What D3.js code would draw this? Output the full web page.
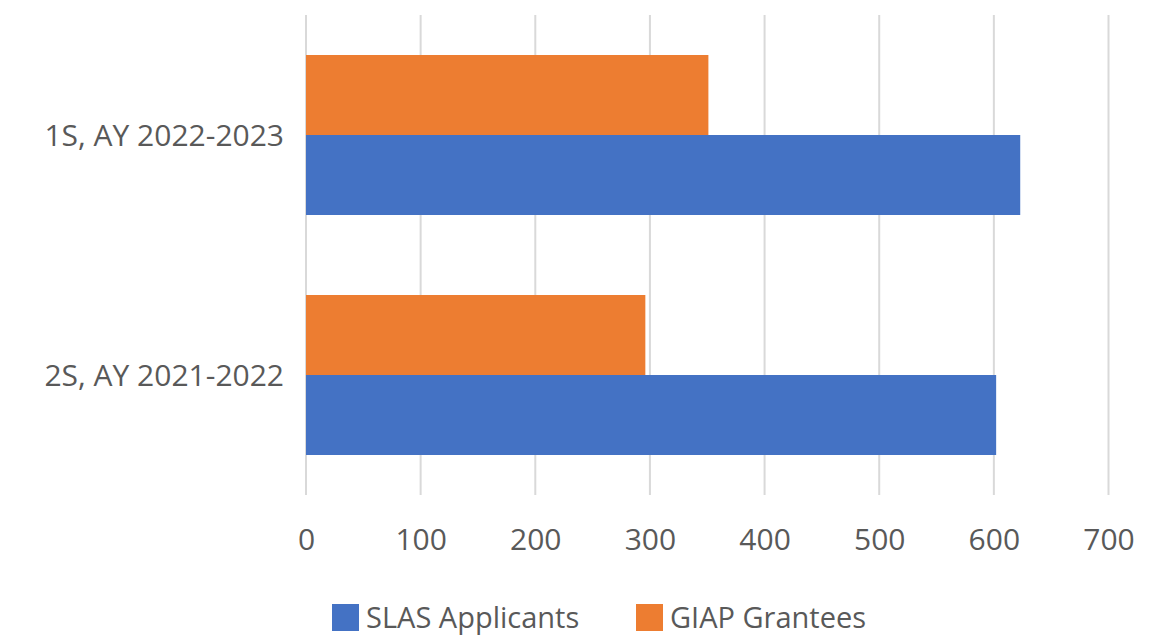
<!DOCTYPE html>
<html>
<head>
<meta charset="utf-8">
<script src="https://cdn.jsdelivr.net/npm/d3@7"></script>
<style>
  html, body { margin: 0; padding: 0; background: #fff; }
  svg { display: block; }
  text { font-family: "Open Sans", "DejaVu Sans", sans-serif; fill: #595959; }
</style>
</head>
<body>
<svg id="chart" width="1163" height="637"></svg>
<script>
// Semesters, top to bottom
const categories = ["1S, AY 2022-2023", "2S, AY 2021-2022"];
const seriesNames = ["SLAS Applicants", "GIAP Grantees"];
const slasApplicants = [623, 602];
const giapGrantees = [351, 296];
const xTicks = [0, 100, 200, 300, 400, 500, 600, 700];

const colors = { "SLAS Applicants": "#4472C4", "GIAP Grantees": "#ED7D31" };

const svg = d3.select("#chart");
const plot = { left: 306, right: 1108.5, top: 15, bottom: 495 };

const x = d3.scaleLinear().domain([0, 700]).range([plot.left, plot.right]);
const y = d3.scaleBand().domain(categories).range([plot.top, plot.bottom])
  .paddingInner(1 / 3).paddingOuter(1 / 6);
// Within each group the grantees sit above the applicants
const ySub = d3.scaleBand().domain(["GIAP Grantees", "SLAS Applicants"])
  .range([0, y.bandwidth()]);

// Vertical gridlines
svg.append("g").selectAll("line").data(xTicks).join("line")
  .attr("x1", d => x(d)).attr("x2", d => x(d))
  .attr("y1", plot.top).attr("y2", plot.bottom)
  .attr("stroke", "#d9d9d9").attr("stroke-width", 2);

// Bars
const rows = categories.map((c, i) => ({
  cat: c,
  values: [
    { name: "GIAP Grantees", value: giapGrantees[i] },
    { name: "SLAS Applicants", value: slasApplicants[i] }
  ]
}));

const groups = svg.append("g").selectAll("g").data(rows).join("g")
  .attr("transform", d => `translate(0,${y(d.cat)})`);
groups.selectAll("rect").data(d => d.values).join("rect")
  .attr("x", x(0))
  .attr("y", d => ySub(d.name))
  .attr("width", d => x(d.value) - x(0))
  .attr("height", ySub.bandwidth())
  .attr("fill", d => colors[d.name]);

// X axis tick labels (no axis line)
const xAxis = d3.axisBottom(x).tickValues(xTicks).tickSize(0).tickPadding(0);
const gx = svg.append("g").attr("transform", `translate(0,${plot.bottom})`).call(xAxis);
gx.select(".domain").remove();
gx.selectAll("text")
  .attr("y", 55).attr("dy", null)
  .style("font-family", "\"Open Sans\", sans-serif")
  .style("font-size", "30px").style("fill", "#595959");

// Category labels
const yAxis = d3.axisLeft(y).tickSize(0).tickPadding(22);
const gy = svg.append("g").attr("transform", `translate(${plot.left},0)`).call(yAxis);
gy.select(".domain").remove();
gy.selectAll("text")
  .attr("dy", "0.36em")
  .style("font-family", "\"Open Sans\", sans-serif")
  .style("font-size", "30px").style("fill", "#595959");

// Legend
const legendItems = [
  { name: seriesNames[0], x: 332 },
  { name: seriesNames[1], x: 636 }
];
const legend = svg.append("g").selectAll("g").data(legendItems).join("g")
  .attr("transform", d => `translate(${d.x},604)`);
legend.append("rect").attr("width", 27).attr("height", 27)
  .attr("fill", d => colors[d.name]);
legend.append("text").attr("x", 34).attr("y", 24)
  .style("font-size", "29px")
  .text(d => d.name);
</script>
</body>
</html>
